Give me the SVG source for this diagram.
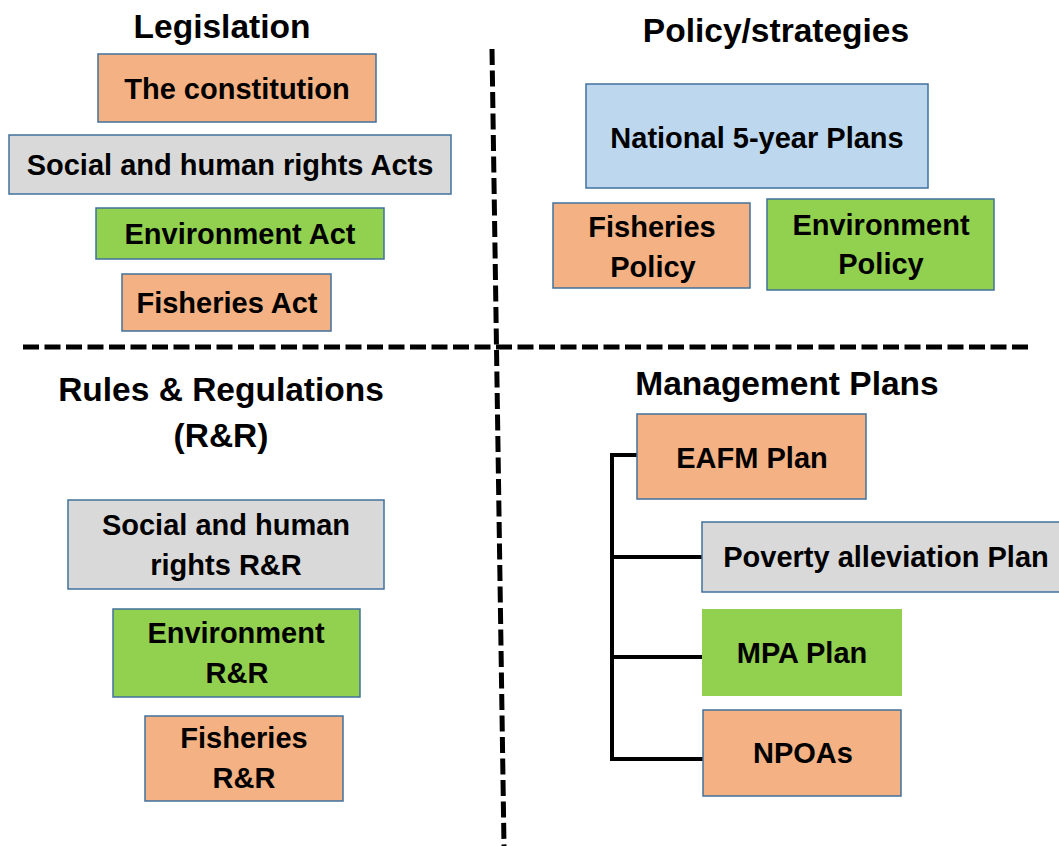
<svg xmlns="http://www.w3.org/2000/svg" width="1059" height="846" viewBox="0 0 1059 846">
<style>
text{font-family:"Liberation Sans",Arial,sans-serif;font-weight:bold;fill:#000;text-anchor:middle}
.t{font-size:29px}
.h{font-size:33.5px}
.box{stroke:#41719C;stroke-width:1.5}
.or{fill:#F4B183}.gr{fill:#D9D9D9}.gn{fill:#92D050}.bl{fill:#BDD7EE}
.dash{stroke:#000;stroke-width:5;stroke-dasharray:16 5.5;fill:none}
.conn{stroke:#000;stroke-width:4;fill:none}
</style>
<rect width="1059" height="846" fill="#fff"/>
<g id="dividers">
<line class="dash" x1="492" y1="49" x2="504" y2="846"/>
<line class="dash" x1="23" y1="347" x2="1030" y2="347"/>
</g>
<g id="titles">
<text class="h" x="222" y="38">Legislation</text>
<text class="h" x="776" y="42">Policy/strategies</text>
<text class="h" x="221" y="401">Rules &amp; Regulations</text>
<text class="h" x="221" y="447">(R&amp;R)</text>
<text class="h" x="787" y="395">Management Plans</text>
</g>
<g id="connectors">
<path class="conn" d="M637 455 H612 V759 H703 M612 557 H702 M612 657 H702"/>
</g>
<g id="constitution"><rect class="box or" x="98" y="54" width="278" height="68"/><text class="t" x="237" y="99">The constitution</text></g>
<g id="social-acts"><rect class="box gr" x="9" y="135" width="442" height="59"/><text class="t" x="230" y="175">Social and human rights Acts</text></g>
<g id="env-act"><rect class="box gn" x="96" y="208" width="288" height="51"/><text class="t" x="240" y="244">Environment Act</text></g>
<g id="fish-act"><rect class="box or" x="122" y="274" width="209" height="57"/><text class="t" x="227" y="313">Fisheries Act</text></g>
<g id="national-plans"><rect class="box bl" x="586" y="84" width="342" height="104"/><text class="t" x="757" y="148">National 5-year Plans</text></g>
<g id="fish-policy"><rect class="box or" x="553" y="203" width="197" height="85"/><text class="t" x="652" y="237">Fisheries</text><text class="t" x="653" y="277">Policy</text></g>
<g id="env-policy"><rect class="box gn" x="767" y="199" width="227" height="91"/><text class="t" x="881" y="235">Environment</text><text class="t" x="881" y="274">Policy</text></g>
<g id="social-rr"><rect class="box gr" x="68" y="500" width="316" height="89"/><text class="t" x="226" y="535">Social and human</text><text class="t" x="226" y="575">rights R&amp;R</text></g>
<g id="env-rr"><rect class="box gn" x="113" y="609" width="247" height="88"/><text class="t" x="236" y="643">Environment</text><text class="t" x="237" y="683">R&amp;R</text></g>
<g id="fish-rr"><rect class="box or" x="145" y="716" width="198" height="85"/><text class="t" x="244" y="748">Fisheries</text><text class="t" x="244" y="788">R&amp;R</text></g>
<g id="eafm"><rect class="box or" x="637" y="414" width="229" height="85"/><text class="t" x="752" y="468">EAFM Plan</text></g>
<g id="poverty"><rect class="box gr" x="702" y="522" width="362" height="70"/><text class="t" x="886" y="567">Poverty alleviation Plan</text></g>
<g id="mpa"><rect class="gn" x="702" y="609" width="200" height="87"/><text class="t" x="802" y="663">MPA Plan</text></g>
<g id="npoas"><rect class="box or" x="703" y="710" width="198" height="86"/><text class="t" x="803" y="763">NPOAs</text></g>
</svg>
